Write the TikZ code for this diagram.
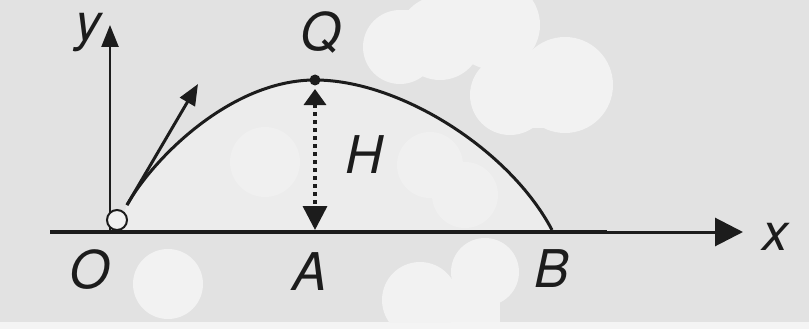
\documentclass[tikz,border=0pt]{standalone}
\usepackage{fontspec}
\setmainfont{TeX Gyre Heros}
\usetikzlibrary{arrows.meta}
\definecolor{bg}{HTML}{E2E2E2}
\definecolor{blob}{HTML}{F2F2F2}
\definecolor{inner}{HTML}{ECECEC}
\definecolor{innerblob}{HTML}{F0F0F0}
\definecolor{band}{HTML}{F4F4F4}
\definecolor{ink}{HTML}{1C1C1C}
\begin{document}
\begin{tikzpicture}[x=1pt,y=-1pt,
  lbl/.style={font=\fontsize{52}{52}\selectfont\itshape, inner sep=0pt, text=ink},
  tip/.style 2 args={-{Triangle[length=#1pt,width=#2pt]}},
  inkline/.style={draw=ink, line cap=butt}]
% background
\fill[bg] (0,0) rectangle (809,329);
\useasboundingbox (0,0) rectangle (809,329);
\fill[band] (0,322) rectangle (809,329);
% region under the curve
\fill[inner] (127,205) .. controls (152,160) and (230,80) .. (315,80)
  .. controls (400,80) and (510,150) .. (552,230) -- (117,232) -- cycle;
% white blobs
\begin{scope}
\clip (0,0) rectangle (809,322);
\fill[blob] (400,47) circle (37);
\fill[blob] (440,38) circle (42);
\fill[blob] (495,25) circle (45);
\fill[blob] (400,10) rectangle (490,60);
\fill[blob] (510,95) circle (40);
\fill[blob] (565,85) circle (48);
\fill[blob] (510,55) rectangle (565,128);
\fill[blob] (168,284) circle (35);
\fill[blob] (485,272) circle (34);
\fill[blob] (420,300) circle (38);
\fill[blob] (420,290) rectangle (500,322);
\fill[innerblob] (265,162) circle (35);
\fill[innerblob] (430,165) circle (33);
\fill[innerblob] (465,195) circle (33);
\end{scope}
% coordinates
\coordinate (xs) at (50,232);
\coordinate (xm) at (607,232);
\coordinate (xe) at (743,232);
\coordinate (yb) at (110,232);
\coordinate (ye) at (110,25);
\coordinate (vs) at (127,205);
\coordinate (ve) at (198,84);
\coordinate (Bp) at (552,230);
\coordinate (Ap) at (315,230);
\coordinate (Qt) at (315,89);
% axes
\draw[inkline, line width=4.5pt] (xs) -- (xm);
\draw[inkline, line width=3pt, tip={28}{28}] (xm) -- (xe);
\draw[inkline, line width=2.5pt, tip={22}{17}] (yb) -- (ye);
% trajectory
\draw[ink, line width=3pt] (vs) .. controls (152,160) and (230,80) .. (315,80)
  .. controls (400,80) and (510,150) .. (Bp);
% velocity
\draw[inkline, line width=3pt, tip={21}{17}] (vs) -- (ve);
% ball
\node[circle, draw=ink, fill=blob, line width=2pt, minimum size=20pt, inner sep=0pt] (ball) at (117,220) {};
% top point
\node[circle, fill=ink, minimum size=11pt, inner sep=0pt] (Qd) at (315,80) {};
% height arrow
\draw[ink, line width=3.5pt, dash pattern=on 4pt off 4pt,
  {Triangle[length=16pt,width=22pt]}-{Triangle[length=24pt,width=24pt]}] (Qt) -- (Ap);
% labels
\node[lbl, anchor=base] (ylbl) at (88,41) {y};
\node[lbl, anchor=base] (xlbl) at (775,250) {x};
\node[lbl, anchor=base] (Qlbl) at (321,51) {Q};
\node[lbl, anchor=base] (Hlbl) at (364,173) {H};
\node[lbl, anchor=base] (Olbl) at (90,288) {O};
\node[lbl, anchor=base] (Albl) at (310,290) {A};
\node[lbl, anchor=base] (Blbl) at (552,287) {B};
\end{tikzpicture}
\end{document}
